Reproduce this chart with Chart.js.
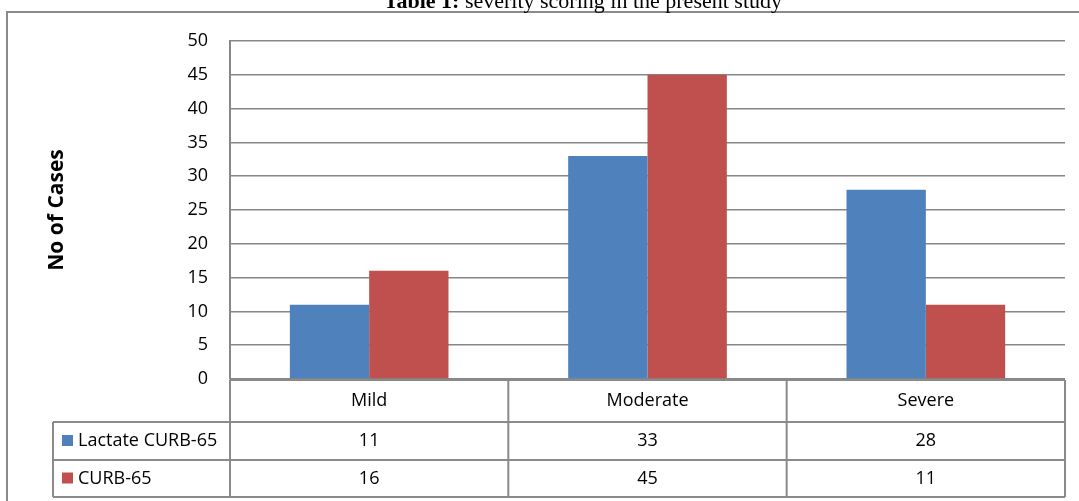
<!DOCTYPE html>
<html>
<head>
<meta charset="utf-8">
<script src="https://cdn.jsdelivr.net/npm/chart.js@4"></script>
<style>
  body { margin: 0; background: #fff; width: 1079px; height: 501px; overflow: hidden; position: relative; }
  #title { position: absolute; right: 297px; top: -12px; font-family: "Liberation Serif", "Times New Roman", serif; font-size: 22px; line-height: normal; white-space: nowrap; color: #000; z-index: 2; }
  #wrap { position: absolute; left: 0; top: 0; width: 1079px; height: 501px; }
</style>
</head>
<body>
<div id="title"><b>Table 1:</b> severity scoring in the present study</div>
<div id="wrap"><canvas id="chart"></canvas></div>
<script>
// données du graphique
const categories = ['Mild', 'Moderate', 'Severe'];
const seriesNames = ['Lactate CURB-65', 'CURB-65'];
const lactateCurb65 = [11, 33, 28];
const curb65 = [16, 45, 11];
const yTicks = [0, 5, 10, 15, 20, 25, 30, 35, 40, 45, 50];

const colors = ['#4F81BD', '#C0504D'];
const gridColor = '#878787';
const fontFam = '"Open Sans", "Noto Sans", sans-serif';

// tableau de données sous l'axe + bordure + titre de l'axe Y
const tablePlugin = {
  id: 'dataTable',
  beforeDraw(chart) {
    const ctx = chart.ctx;
    ctx.save();
    ctx.strokeStyle = '#8a8a8a';
    ctx.lineWidth = 2;
    ctx.strokeRect(7, 12, 1200, 600);
    ctx.restore();
  },
  afterDraw(chart) {
    const ctx = chart.ctx;
    const area = chart.chartArea;
    const x = chart.scales.x;
    const half = (x.getPixelForValue(1) - x.getPixelForValue(0)) / 2;
    const edges = categories.map((c, i) => x.getPixelForValue(i) - half);
    edges.push(x.getPixelForValue(categories.length - 1) + half);

    const top = area.bottom + 1;
    const rows = [top, top + 42, top + 80, top + 117];
    const labelLeft = 53;

    ctx.save();
    ctx.strokeStyle = '#8a8a8a';
    ctx.lineWidth = 2;
    ctx.beginPath();
    // lignes horizontales
    ctx.moveTo(edges[0], rows[0]); ctx.lineTo(edges[edges.length - 1], rows[0]);
    for (let r = 1; r < rows.length; r++) {
      ctx.moveTo(labelLeft, rows[r]); ctx.lineTo(edges[edges.length - 1], rows[r]);
    }
    // lignes verticales
    ctx.moveTo(labelLeft, rows[1]); ctx.lineTo(labelLeft, rows[3]);
    edges.forEach(e => { ctx.moveTo(e, rows[0]); ctx.lineTo(e, rows[3]); });
    ctx.stroke();

    ctx.fillStyle = '#000';
    ctx.font = '18px ' + fontFam;
    ctx.textAlign = 'center';
    ctx.textBaseline = 'middle';
    categories.forEach((c, i) => {
      const cx = (edges[i] + edges[i + 1]) / 2;
      ctx.fillText(c, cx, (rows[0] + rows[1]) / 2);
      ctx.fillText(String(lactateCurb65[i]), cx, (rows[1] + rows[2]) / 2);
      ctx.fillText(String(curb65[i]), cx, (rows[2] + rows[3]) / 2);
    });

    // légende dans le tableau
    ctx.textAlign = 'left';
    seriesNames.forEach((name, s) => {
      const cy = (rows[s + 1] + rows[s + 2]) / 2;
      ctx.fillStyle = colors[s];
      ctx.fillRect(62, cy - 6, 11, 11);
      ctx.fillStyle = '#000';
      ctx.fillText(name, 78, cy);
    });

    // titre de l'axe Y
    ctx.translate(57, (area.top + area.bottom) / 2);
    ctx.rotate(-Math.PI / 2);
    ctx.textAlign = 'center';
    ctx.font = 'bold 21px ' + fontFam;
    ctx.fillText('No of Cases', 0, 0);
    ctx.restore();
  }
};

const ctx = document.getElementById('chart').getContext('2d');
new Chart(ctx, {
  type: 'bar',
  data: {
    labels: categories,
    datasets: [
      { label: seriesNames[0], data: lactateCurb65, backgroundColor: colors[0] },
      { label: seriesNames[1], data: curb65, backgroundColor: colors[1] }
    ]
  },
  options: {
    responsive: true,
    maintainAspectRatio: false,
    animation: false,
    devicePixelRatio: 1,
    layout: { padding: { left: 0, right: 14, top: 41, bottom: 122 } },
    datasets: { bar: { categoryPercentage: 0.57, barPercentage: 1 } },
    plugins: { legend: { display: false }, tooltip: { enabled: false } },
    scales: {
      x: { display: false },
      y: {
        min: 0,
        max: 50,
        afterBuildTicks: scale => { scale.ticks = yTicks.map(v => ({ value: v })); },
        afterFit: scale => { scale.width = 230; },
        ticks: { color: '#000', font: { family: fontFam, size: 18 }, padding: 22 },
        grid: { color: gridColor, lineWidth: 1.5, drawTicks: false },
        border: { display: true, color: gridColor, width: 2 }
      }
    }
  },
  plugins: [tablePlugin]
});
</script>
</body>
</html>
